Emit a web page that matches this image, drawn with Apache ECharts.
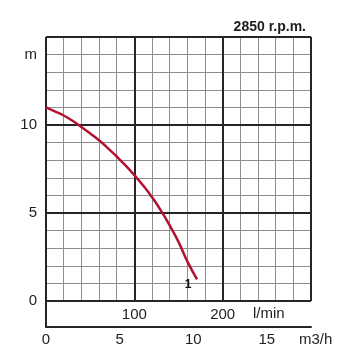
<!DOCTYPE html>
<html>
<head>
<meta charset="utf-8">
<script src="https://cdn.jsdelivr.net/npm/echarts@6/dist/echarts.min.js"></script>
<style>
html,body{margin:0;padding:0;background:#fff;}
#chart{width:350px;height:364px;}
</style>
</head>
<body>
<div id="chart"></div>
<script>
// Flow in l/min, head in m
const flowLmin = [0, 10, 20, 30, 40, 50, 60, 70, 80, 90, 100, 110, 120, 130, 140, 150, 160, 171];
const headM    = [11.0, 10.78, 10.54, 10.24, 9.89, 9.52, 9.13, 8.69, 8.21, 7.7, 7.15, 6.56, 5.9, 5.15, 4.3, 3.36, 2.25, 1.23];
const curveName = '1';
const speedLabel = '2850 r.p.m.';
const yTickLabels = [0, 5, 10];
const yUnit = 'm';
const lminTickLabels = [100, 200];
const lminUnit = 'l/min';
const m3hTickLabels = [0, 5, 10, 15];
const m3hUnit = 'm3/h';

const FONT = 'Liberation Sans, Arial, sans-serif';
const TXT = '#1e1e1e';
const DARK = '#262626';
const LIGHT = '#8e8e8e';

const chart = echarts.init(document.getElementById('chart'), null, {renderer: 'canvas'});

const points = flowLmin.map((x, i) => [x, headM[i]]);

chart.setOption({
  animation: false,
  backgroundColor: '#fff',
  title: {
    text: speedLabel,
    right: 39, top: 15,
    textStyle: {fontFamily: FONT, fontSize: 14, fontWeight: 'bold', color: TXT}
  },
  grid: [
    {left: 46, top: 37, width: 265, height: 264},
    {left: 46, top: 301, width: 265, height: 26}
  ],
  xAxis: [
    {
      type: 'value', gridIndex: 0, min: 0, max: 300, interval: 20, position: 'bottom',
      axisLine: {show: false}, axisTick: {show: false}, axisLabel: {show: false},
      splitLine: {show: true, lineStyle: {color: LIGHT, width: 1}}
    },
    {
      type: 'value', gridIndex: 0, min: 0, max: 300, interval: 100, z: 3, position: 'bottom',
      axisLine: {show: false, onZero: false}, axisTick: {show: false},
      axisLabel: {
        show: true, margin: 6, fontFamily: FONT, fontSize: 15, color: TXT,
        formatter: v => lminTickLabels.includes(v) ? String(v) : ''
      },
      splitLine: {show: true, lineStyle: {color: DARK, width: 2}}
    },
    {
      type: 'value', gridIndex: 1, min: 0, max: 18, interval: 5, position: 'bottom',
      axisLine: {show: true, onZero: false, lineStyle: {color: DARK, width: 2}},
      axisTick: {show: false},
      axisLabel: {
        show: true, margin: 5, fontFamily: FONT, fontSize: 15, color: TXT,
        showMaxLabel: false,
        formatter: v => m3hTickLabels.includes(v) ? String(v) : ''
      },
      splitLine: {show: false}
    }
  ],
  yAxis: [
    {
      type: 'value', gridIndex: 0, min: 0, max: 15, interval: 1, position: 'left',
      axisLine: {show: false}, axisTick: {show: false},
      axisLabel: {
        show: true, margin: 9, fontFamily: FONT, fontSize: 15, color: TXT,
        formatter: v => yTickLabels.includes(v) ? String(v) : (v === 14 ? yUnit : '')
      },
      splitLine: {show: true, lineStyle: {color: LIGHT, width: 1}}
    },
    {
      type: 'value', gridIndex: 0, min: 0, max: 15, interval: 5, z: 3, position: 'left',
      axisLine: {show: false}, axisTick: {show: false}, axisLabel: {show: false},
      splitLine: {show: true, lineStyle: {color: DARK, width: 2}}
    },
    {
      type: 'value', gridIndex: 1, min: 0, max: 1, position: 'left',
      axisLine: {show: true, onZero: false, lineStyle: {color: DARK, width: 2}},
      axisTick: {show: false}, axisLabel: {show: false}, splitLine: {show: false}
    }
  ],
  graphic: [
    {type: 'text', left: 253, top: 306, style: {text: lminUnit, font: '15px ' + FONT, fill: TXT}},
    {type: 'text', left: 299, top: 332, style: {text: m3hUnit, font: '15px ' + FONT, fill: TXT}}
  ],
  series: [
    {
      type: 'line', name: curveName, xAxisIndex: 0, yAxisIndex: 0,
      data: points, smooth: 0.5, showSymbol: false, z: 5,
      lineStyle: {color: '#b2122f', width: 2.5},
      endLabel: {
        show: true, formatter: curveName, distance: 0, offset: [-9, 5],
        align: 'center', verticalAlign: 'middle',
        fontFamily: FONT, fontSize: 12, fontWeight: 'bold', color: '#111'
      }
    }
  ]
});
</script>
</body>
</html>
